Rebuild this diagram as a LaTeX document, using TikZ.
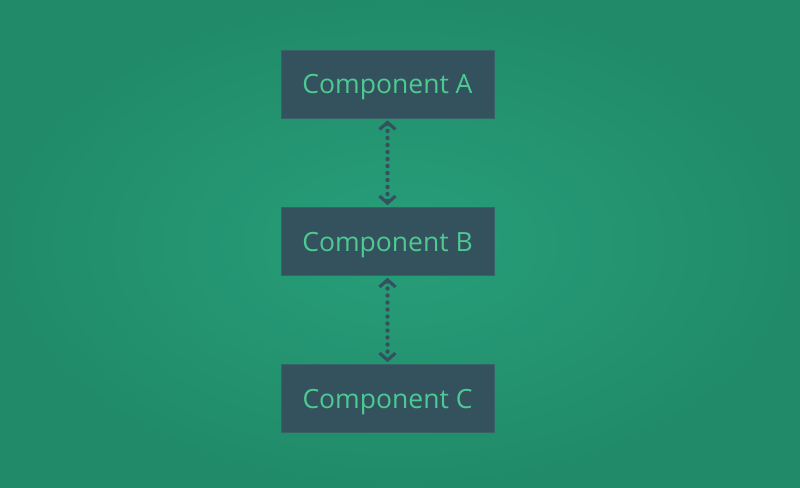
\documentclass[tikz,border=0pt]{standalone}
\usepackage{fontspec}
\setmainfont{Open Sans}
\usetikzlibrary{arrows.meta}
\definecolor{bginner}{RGB}{39,158,121}
\definecolor{bgouter}{RGB}{33,139,105}
\definecolor{boxfill}{RGB}{52,81,94}
\definecolor{boxtext}{RGB}{76,202,146}
\tikzset{
  compbox/.style={fill=boxfill, draw=boxfill!85!boxtext, line width=0.6pt,
    minimum width=213pt, minimum height=68pt, inner sep=0pt, text depth=0pt,
    text=boxtext, font=\fontsize{26.5}{30}\selectfont},
  link/.style={draw=boxfill, line width=4.4pt, line cap=round,
    dash pattern=on 0pt off 7pt,
    {Straight Barb[length=7pt,width=16pt,line width=3.2pt]}-{Straight Barb[length=7pt,width=16pt,line width=3.2pt]},
    shorten <=2pt, shorten >=2pt}
}
\begin{document}
\begin{tikzpicture}[x=1pt,y=1pt]
\shade[inner color=bginner, outer color=bgouter] (0,0) rectangle (800,487);
\useasboundingbox (0,0) rectangle (800,487);
\node[compbox] (compA) at (387.5,403) {Component A};
\node[compbox] (compB) at (387.5,245.5) {Component B};
\node[compbox] (compC) at (387.5,88.5) {Component C};
\draw[link] (compA.south) -- (compB.north);
\draw[link] (compB.south) -- (compC.north);
\end{tikzpicture}
\end{document}
